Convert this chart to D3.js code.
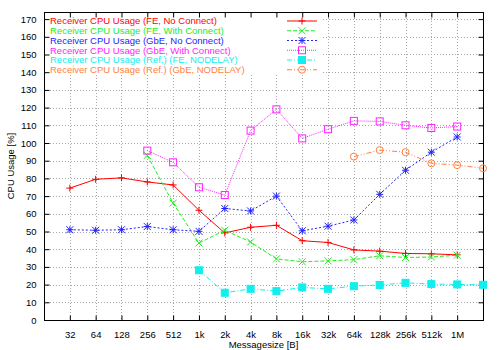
<!DOCTYPE html>
<html lang="en">

<head>
    <meta charset="UTF-8">
    <title>Receiver CPU Usage</title>
    <script src="https://d3js.org/d3.v7.min.js"></script>
    <style>
        body {
            margin: 0;
            background: white;
        }

        text {
            font-family: "Liberation Sans", Arial, sans-serif;
            font-size: 9.5px;
        }
    </style>
</head>

<body>
    <script>
        // Message sizes (last slot "2M" is unlabeled, at the right border)
        const sizes = ["32", "64", "128", "256", "512", "1k", "2k", "4k", "8k", "16k", "32k", "64k", "128k", "256k", "512k", "1M", "2M"];
        const tickSizes = sizes.slice(0, 16);
        const yTicks = d3.range(0, 171, 10);

        const feNoConnect = [74.5, 79.5, 80.3, 78, 76.3, 62, 49.2, 52.4, 53.5, 44.8, 43.8, 39.6, 38.9, 37.6, 37.4, 36.8, null];
        const feWithConnect = [null, null, null, 93, 66, 43.5, 50.7, 44.1, 34.5, 32.9, 33.4, 34.1, 36.3, 35.3, 35.6, 36.6, null];
        const gbeNoConnect = [51, 50.7, 51, 52.8, 51, 50.1, 63, 61.6, 70, 50.4, 53, 56.5, 71, 84.6, 94.8, 103.4, null];
        const gbeWithConnect = [null, null, null, 95.7, 89.1, 75, 70.6, 107, 119, 102.6, 107.8, 112.5, 112.2, 110, 108.5, 109.3, null];
        const feNodelay = [null, null, null, null, null, 28.1, 15.4, 17.6, 16.3, 18.4, 17.6, 19.1, 19.8, 21, 20.3, 20.1, 19.9];
        const gbeNodelay = [null, null, null, null, null, null, null, null, null, null, null, 92.3, 96, 94.8, 88.5, 87.5, 85.7];

        const series = [
            { name: "Receiver CPU Usage (FE, No Connect)", values: feNoConnect, color: "#ff0000", dash: null, mark: "plus" },
            { name: "Receiver CPU Usage (FE, With Connect)", values: feWithConnect, color: "#22ee22", dash: "4,2", mark: "cross" },
            { name: "Receiver CPU Usage (GbE, No Connect)", values: gbeNoConnect, color: "#2222ff", dash: "2,2", mark: "star" },
            { name: "Receiver CPU Usage (GbE, With Connect)", values: gbeWithConnect, color: "#ff22ff", dash: "1,1", mark: "box" },
            { name: "Receiver CPU Usage (Ref.) (FE, NODELAY)", values: feNodelay, color: "#11eeee", dash: "5,2,1,2", mark: "fbox" },
            { name: "Receiver CPU Usage (Ref.) (GbE, NODELAY)", values: gbeNodelay, color: "#ff7f40", dash: "5,2,1,2,1,2", mark: "circle" }
        ];

        const width = 500, height = 350;
        const mLeft = 44, mRight = 483, mTop = 12, mBottom = 320;
        const step = (mRight - mLeft) / 17;

        const svg = d3.select("body")
            .append("svg")
            .attr("width", width)
            .attr("height", height);

        const x = d3.scalePoint()
            .domain(sizes)
            .range([mLeft + step, mRight]);

        const y = d3.scaleLinear()
            .domain([0, (mBottom - mTop) / 1.77])
            .range([mBottom, mTop]);

        // Grid
        const grid = svg.append("g")
            .attr("stroke", "#a8a8a8")
            .attr("stroke-dasharray", "1,2")
            .attr("stroke-width", 1);

        grid.selectAll(".gx")
            .data(tickSizes)
            .join("line")
            .attr("x1", d => Math.round(x(d)) + 0.5)
            .attr("x2", d => Math.round(x(d)) + 0.5)
            .attr("y1", mTop)
            .attr("y2", mBottom);

        grid.selectAll(".gy")
            .data(yTicks.slice(1))
            .join("line")
            .attr("x1", mLeft)
            .attr("x2", mRight)
            .attr("y1", d => Math.round(y(d)) + 0.5)
            .attr("y2", d => Math.round(y(d)) + 0.5);

        // Blank area behind the key
        svg.append("rect")
            .attr("x", mLeft + 1)
            .attr("y", mTop + 1)
            .attr("width", 322 - mLeft)
            .attr("height", 74 - mTop)
            .attr("fill", "white");

        // Axes (ticks inward, mirrored)
        const axisLeft = svg.append("g")
            .attr("transform", `translate(${mLeft + 0.5},0)`)
            .call(d3.axisLeft(y).tickValues(yTicks).tickSize(-5).tickPadding(8).tickFormat(d3.format("d")));
        const axisRight = svg.append("g")
            .attr("transform", `translate(${mRight + 0.5},0)`)
            .call(d3.axisRight(y).tickValues(yTicks).tickSize(-5).tickFormat(""));
        const axisBottom = svg.append("g")
            .attr("transform", `translate(0,${mBottom + 0.5})`)
            .call(d3.axisBottom(x).tickValues(tickSizes).tickSize(-5).tickPadding(11));
        const axisTop = svg.append("g")
            .attr("transform", `translate(0,${mTop + 0.5})`)
            .call(d3.axisTop(x).tickValues(tickSizes).tickSize(-5).tickFormat(""));

        [axisLeft, axisRight, axisBottom, axisTop].forEach(a => {
            a.select(".domain").remove();
            a.selectAll("line").attr("stroke", "black");
            a.selectAll("text")
                .attr("fill", "black")
                .style("font-family", "'Liberation Sans', Arial, sans-serif")
                .style("font-size", "9.5px");
        });

        svg.append("rect")
            .attr("x", mLeft + 0.5)
            .attr("y", mTop + 0.5)
            .attr("width", mRight - mLeft)
            .attr("height", mBottom - mTop)
            .attr("fill", "none")
            .attr("stroke", "black");

        // Axis titles
        svg.append("text")
            .attr("x", (mLeft + mRight) / 2)
            .attr("y", 348)
            .attr("text-anchor", "middle")
            .text("Messagesize [B]");

        svg.append("text")
            .attr("transform", `translate(14,${(mTop + mBottom) / 2}) rotate(-90)`)
            .attr("text-anchor", "middle")
            .text("CPU Usage [%]");

        // Marker drawing
        function drawMark(g, kind, color) {
            const s = 3.5;
            if (kind === "plus" || kind === "star") {
                g.append("path").attr("d", `M${-s},0H${s}M0,${-s}V${s}`).attr("stroke", color).attr("fill", "none");
            }
            if (kind === "cross" || kind === "star") {
                g.append("path").attr("d", `M${-s},${-s}L${s},${s}M${-s},${s}L${s},${-s}`).attr("stroke", color).attr("fill", "none");
            }
            if (kind === "box" || kind === "fbox") {
                g.append("rect").attr("x", -s).attr("y", -s).attr("width", 2 * s).attr("height", 2 * s)
                    .attr("stroke", color).attr("fill", kind === "fbox" ? color : "none");
            }
            if (kind === "circle") {
                g.append("circle").attr("r", s).attr("stroke", color).attr("fill", "none");
            }
        }

        const line = d3.line()
            .defined(d => d.v !== null)
            .x(d => x(d.k))
            .y(d => y(d.v));

        series.forEach((s, i) => {
            const pts = s.values.map((v, j) => ({ k: sizes[j], v: v }));
            svg.append("path")
                .datum(pts)
                .attr("d", line)
                .attr("fill", "none")
                .attr("stroke", s.color)
                .attr("stroke-width", 1)
                .attr("stroke-dasharray", s.dash);

            pts.filter(d => d.v !== null).forEach(d => {
                const g = svg.append("g").attr("transform", `translate(${x(d.k)},${y(d.v)})`);
                drawMark(g, s.mark, s.color);
            });

            // Key entry
            const ky = 21 + i * 9.75;
            svg.append("text")
                .attr("x", 50)
                .attr("y", ky)
                .attr("dy", "0.35em")
                .attr("fill", s.color)
                .text(s.name);
            svg.append("line")
                .attr("x1", 287)
                .attr("x2", 317)
                .attr("y1", ky)
                .attr("y2", ky)
                .attr("stroke", s.color)
                .attr("stroke-dasharray", s.dash);
            drawMark(svg.append("g").attr("transform", `translate(302,${ky})`), s.mark, s.color);
        });
    </script>
</body>

</html>
